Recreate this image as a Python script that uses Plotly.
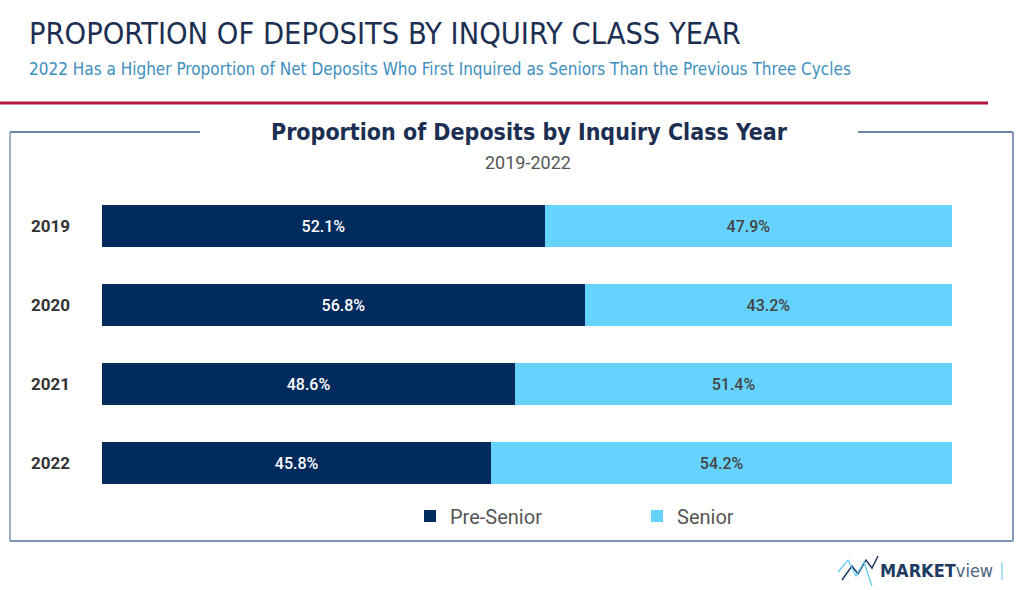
import plotly.graph_objects as go

years = ["2019", "2020", "2021", "2022"]
pre_senior = [52.1, 56.8, 48.6, 45.8]
senior = [47.9, 43.2, 51.4, 54.2]

W, H = 1024, 590
NAVY = "#002b5c"
SKY = "#66d3fe"
NARROW = "Liberation Sans Narrow, DejaVu Sans Condensed, Arial Narrow, sans-serif"


def px(x):
    return x / W


def py(y):
    return 1 - y / H


fig = go.Figure()

fig.add_trace(go.Bar(
    y=years, x=pre_senior, name="Pre-Senior", orientation="h",
    marker=dict(color=NAVY, line=dict(width=0)),
    text=[f"{v:.1f}%" for v in pre_senior], textposition="inside",
    insidetextanchor="middle",
    textfont=dict(color="white", size=16, family="Roboto", weight=500),
    width=0.53,
))
fig.add_trace(go.Bar(
    y=years, x=senior, name="Senior", orientation="h",
    marker=dict(color=SKY, line=dict(width=0)),
    text=[f"{v:.1f}%" for v in senior], textposition="inside",
    insidetextanchor="middle",
    textfont=dict(color="#444444", size=16, family="Roboto", weight=500),
    width=0.53,
))

# plot area: bars from x=102 to 952, rows centred at 226..463
fig.update_layout(
    width=W, height=H,
    barmode="stack",
    margin=dict(l=0, r=0, t=0, b=0),
    paper_bgcolor="white", plot_bgcolor="white",
    uniformtext=dict(mode="show", minsize=10),
    xaxis=dict(domain=[px(102), px(952)], range=[0, 100], visible=False,
               fixedrange=True),
    yaxis=dict(domain=[py(502.5), py(186.5)], autorange="reversed",
               showgrid=False, zeroline=False, showline=False, ticks="",
               ticklabelstandoff=31, fixedrange=True,
               tickfont=dict(family="Roboto", size=17, color="#333333",
                             weight=700)),
    legend=dict(orientation="h", x=px(410), y=py(516), yanchor="middle",
                xanchor="left", entrywidth=182, entrywidthmode="pixels",
                font=dict(family="Roboto", size=20, color="#555555"),
                itemwidth=30, traceorder="normal"),
    showlegend=True,
)

shapes = [
    # red divider
    dict(type="line", xref="paper", yref="paper", x0=0, x1=px(988),
         y0=py(103), y1=py(103), line=dict(color="#b3173f", width=3)),
    # box around chart, top broken by title
    dict(type="line", xref="paper", yref="paper", x0=px(10), x1=px(200),
         y0=py(132), y1=py(132), line=dict(color="#3f5f88", width=1.5)),
    dict(type="line", xref="paper", yref="paper", x0=px(858), x1=px(1013),
         y0=py(132), y1=py(132), line=dict(color="#3f5f88", width=1.5)),
    dict(type="line", xref="paper", yref="paper", x0=px(10), x1=px(10),
         y0=py(132), y1=py(541), line=dict(color="#7f97b5", width=1.5)),
    dict(type="line", xref="paper", yref="paper", x0=px(1013), x1=px(1013),
         y0=py(132), y1=py(541), line=dict(color="#7f97b5", width=2)),
    dict(type="line", xref="paper", yref="paper", x0=px(10), x1=px(1013),
         y0=py(541), y1=py(541), line=dict(color="#7f97b5", width=2)),
    # logo zigzag
    dict(type="path", xref="paper", yref="paper",
         path=(f"M {px(842)},{py(580)} L {px(852)},{py(566)} L {px(858)},{py(574)} "
               f"L {px(866)},{py(560)} L {px(872)},{py(568)} L {px(878)},{py(556)}"),
         line=dict(color="#1f3a63", width=1.5)),
    dict(type="path", xref="paper", yref="paper",
         path=(f"M {px(838)},{py(572)} L {px(848)},{py(560)} L {px(856)},{py(576)} "
               f"L {px(864)},{py(562)} L {px(872)},{py(586)}"),
         line=dict(color="#5cc8f2", width=1.2)),
    dict(type="line", xref="paper", yref="paper", x0=px(1002), x1=px(1002),
         y0=py(562), y1=py(580), line=dict(color="#8fd7f5", width=1.5)),
]
fig.update_layout(shapes=shapes)

annotations = [
    dict(text="PROPORTION OF DEPOSITS BY INQUIRY CLASS YEAR",
         x=px(27), y=py(33), xanchor="left", yanchor="middle",
         font=dict(family=NARROW, size=30.5, color="#1c2f52")),
    dict(text="2022 Has a Higher Proportion of Net Deposits Who First Inquired "
              "as Seniors Than the Previous Three Cycles",
         x=px(27), y=py(69), xanchor="left", yanchor="middle",
         font=dict(family=NARROW, size=17, color="#3d8fbf")),
    dict(text="<b>Proportion of Deposits by Inquiry Class Year</b>",
         x=px(529), y=py(132), xanchor="center", yanchor="middle",
         font=dict(family=NARROW, size=23, color="#1c2f52")),
    dict(text="2019-2022",
         x=px(528), y=py(163), xanchor="center", yanchor="middle",
         font=dict(family="Roboto", size=18, color="#555555")),
    dict(text="<b>MARKET</b><span style='color:#4a6384'>view</span>",
         x=px(878), y=py(570), xanchor="left", yanchor="middle",
         font=dict(family=NARROW, size=18, color="#1f3a63")),
]
for a in annotations:
    a.update(xref="paper", yref="paper", showarrow=False)
fig.update_layout(annotations=annotations)

fig.write_html("out.html", config={"displayModeBar": False})

# drop the browser's default 8px body margin so the figure sits at 0,0
with open("out.html", encoding="utf-8") as f:
    page = f.read()
page = page.replace("<body>", "<body style=\"margin:0\">", 1)
with open("out.html", "w", encoding="utf-8") as f:
    f.write(page)
